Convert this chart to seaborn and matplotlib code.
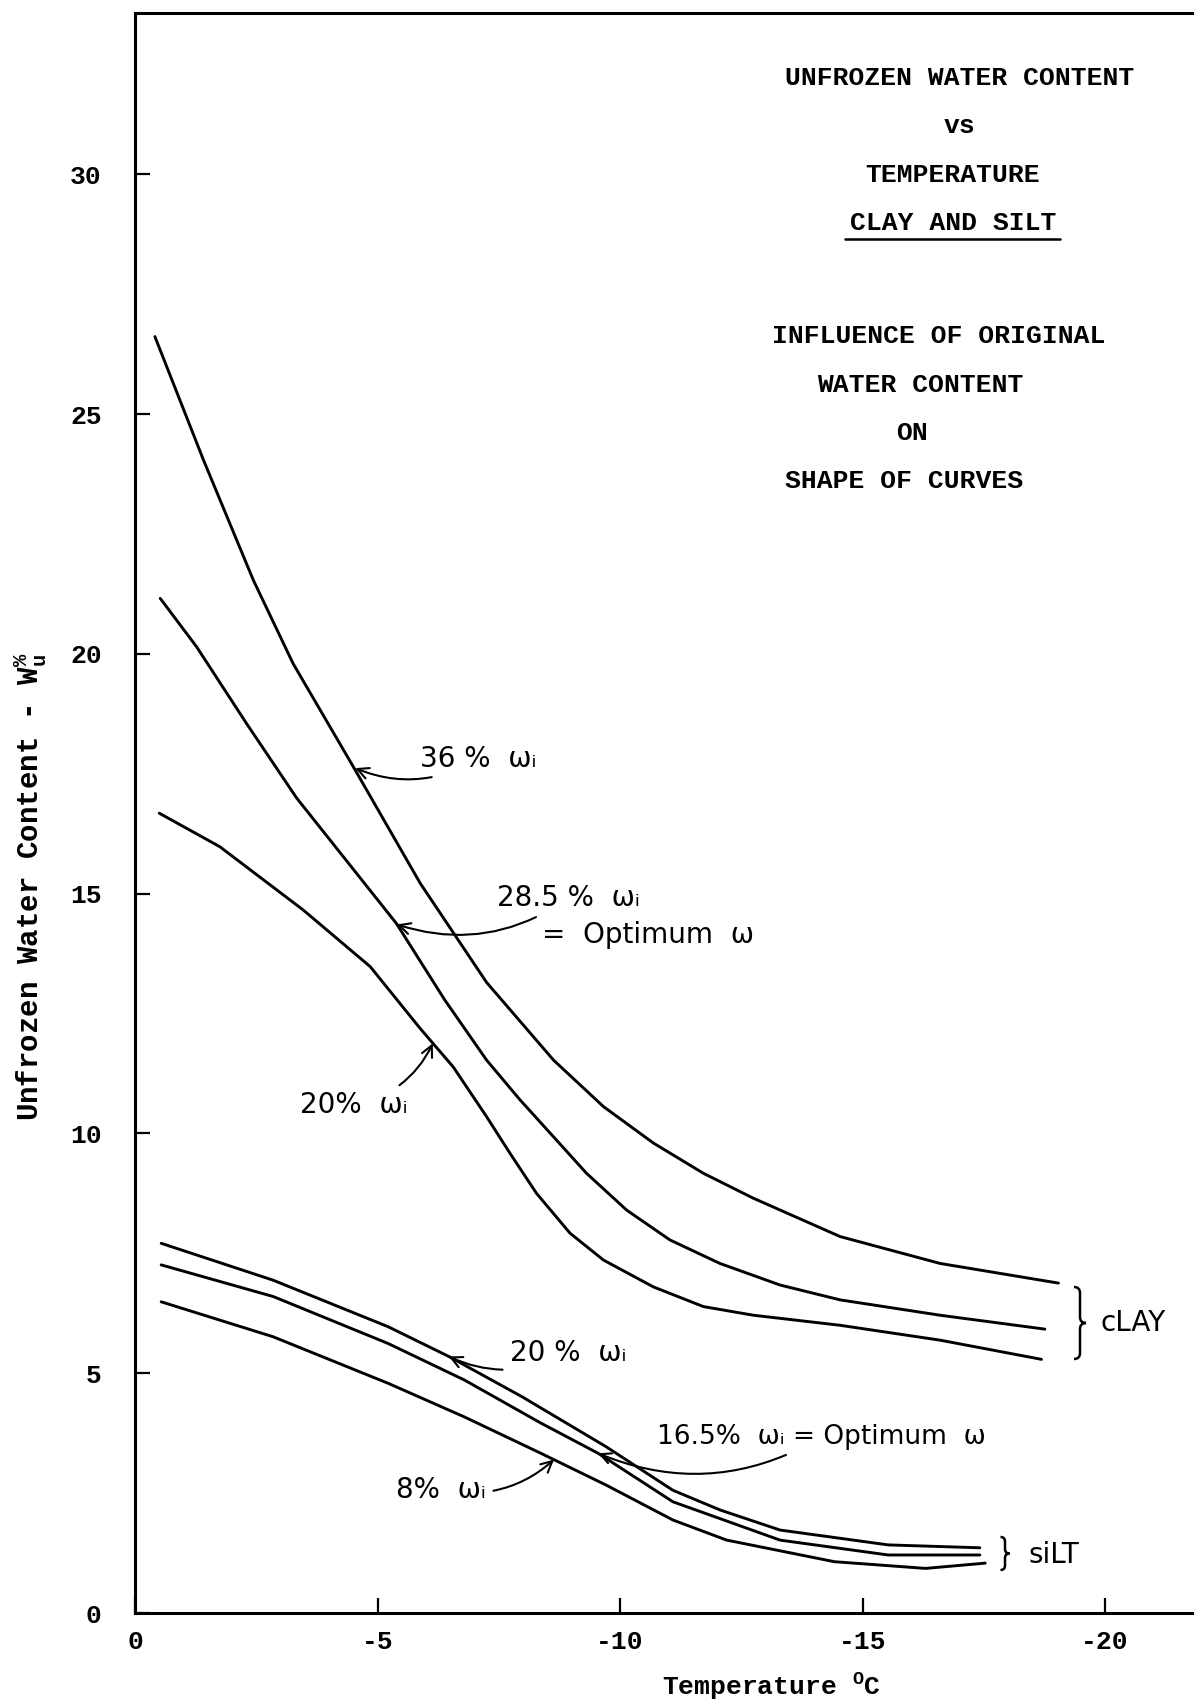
import numpy as np
import pandas as pd
import matplotlib
matplotlib.use("Agg")
import matplotlib.pyplot as plt
from matplotlib.lines import Line2D
from matplotlib.path import Path
from matplotlib.patches import PathPatch
import seaborn as sns

# ---------------- data ----------------
clay36_t = [-0.41, -1.41, -2.44, -3.26, -4.5, -5.88, -7.25, -8.63, -9.66, -10.69, -11.72, -12.75, -14.54, -16.6, -19.04]
clay36_w = [26.62, 24.05, 21.54, 19.8, 17.65, 15.22, 13.15, 11.53, 10.56, 9.8, 9.17, 8.65, 7.85, 7.29, 6.88]

clay285_t = [-0.52, -1.27, -2.3, -3.33, -5.39, -6.39, -7.25, -7.94, -8.63, -9.31, -10.14, -11.03, -12.06, -13.3, -14.54, -16.6, -18.76]
clay285_w = [21.16, 20.15, 18.55, 17.0, 14.38, 12.78, 11.53, 10.7, 9.93, 9.17, 8.40, 7.78, 7.29, 6.84, 6.53, 6.21, 5.92]

clay20_t = [-0.5, -1.75, -3.47, -4.85, -5.88, -6.56, -7.25, -7.73, -8.28, -8.97, -9.66, -10.69, -11.72, -12.75, -14.54, -16.6, -18.69]
clay20_w = [16.68, 15.98, 14.66, 13.48, 12.19, 11.39, 10.35, 9.59, 8.75, 7.92, 7.36, 6.8, 6.39, 6.21, 6.0, 5.69, 5.29]

silt20_t = [-0.54, -2.85, -5.22, -6.47, -7.98, -9.71, -11.09, -12.06, -13.3, -15.53, -17.42]
silt20_w = [7.71, 6.94, 5.97, 5.35, 4.51, 3.47, 2.56, 2.15, 1.73, 1.42, 1.36]

silt165_t = [-0.54, -2.85, -5.22, -6.79, -8.37, -9.55, -11.09, -13.3, -15.53, -17.42]
silt165_w = [7.26, 6.6, 5.62, 4.86, 3.96, 3.33, 2.32, 1.52, 1.21, 1.21]

silt8_t = [-0.54, -2.85, -5.22, -6.79, -8.37, -9.71, -11.09, -12.2, -14.42, -16.3, -17.53]
silt8_w = [6.49, 5.76, 4.79, 4.09, 3.33, 2.67, 1.94, 1.52, 1.07, 0.93, 1.04]

x_ticks = [0, -5, -10, -15, -20]
x_tick_labels = ["0", "-5", "-10", "-15", "-20"]
y_ticks = [0, 5, 10, 15, 20, 25, 30]
y_tick_labels = ["0", "5", "10", "15", "20", "25", "30"]

title_lines = ["UNFROZEN WATER CONTENT", "vs", "TEMPERATURE", "CLAY AND SILT",
               "INFLUENCE OF ORIGINAL", "WATER CONTENT", "ON", "SHAPE OF CURVES"]

curves = [
    ("clay 36", clay36_t, clay36_w),
    ("clay 28.5", clay285_t, clay285_w),
    ("clay 20", clay20_t, clay20_w),
    ("silt 20", silt20_t, silt20_w),
    ("silt 16.5", silt165_t, silt165_w),
    ("silt 8", silt8_t, silt8_w),
]

# ---------------- figure ----------------
sns.set_theme(style="white")
plt.rcParams['font.family'] = ['Liberation Mono', 'DejaVu Sans']
plt.rcParams['font.weight'] = 'bold'
plt.rcParams['mathtext.fontset'] = 'custom'
plt.rcParams['mathtext.rm'] = 'Liberation Mono:bold'
plt.rcParams['mathtext.it'] = 'Liberation Mono:bold'
plt.rcParams['mathtext.bf'] = 'Liberation Mono:bold'

W, H = 1194, 1701
fig = plt.figure(figsize=(W / 100, H / 100), dpi=100)
fig.patch.set_facecolor("white")
ax = fig.add_axes([135 / W, 88 / H, 1 - 135 / W, (1613 - 13) / H])
ax.set_facecolor("white")


def fp(px, py):
    """pixel (from top-left) -> figure fraction"""
    return (px / W, 1 - py / H)


frames = [pd.DataFrame({"temp": t, "wu": w, "curve": name}) for name, t, w in curves]
df = pd.concat(frames, ignore_index=True)

sns.lineplot(data=df, x="temp", y="wu", units="curve", estimator=None, sort=False,
             color="black", linewidth=2.1, ax=ax, legend=False)

ax.set_xlim(0, -(W - 135) / 48.5)
ax.set_ylim(0, 1600 / 47.95)

ax.set_xticks(x_ticks)
ax.set_xticklabels(x_tick_labels, fontweight="bold")
ax.set_yticks(y_ticks)
ax.set_yticklabels(y_tick_labels, fontweight="bold")
ax.tick_params(axis="both", direction="in", length=11, width=1.6, color="black",
               labelsize=19, labelcolor="black")
ax.tick_params(axis="y", pad=24, left=True)
ax.tick_params(axis="x", pad=12, bottom=True)
ax.grid(False)

for side in ["left", "top", "bottom"]:
    ax.spines[side].set_visible(True)
    ax.spines[side].set_color("black")
    ax.spines[side].set_linewidth(2.2)
ax.spines["right"].set_visible(False)

ax.set_xlabel(r"Temperature $^{\mathrm{O}}$C", fontsize=19, fontweight="bold",
              color="black", va="center")
ax.xaxis.set_label_coords((771 - 135) / 1059, (1613 - 1687) / 1600)
ax.set_ylabel(r"Unfrozen Water Content - W$_{u}^{\%}$", fontsize=21, fontweight="bold",
              color="black", va="center")
ax.yaxis.set_label_coords((30 - 135) / 1059, (1613 - 887) / 1600)

# title block
title_pos = [(960, 85), (959, 133), (953, 182), (953, 230),
             (939, 343), (920, 392), (912, 440), (904, 488)]
for s, (px, py) in zip(title_lines, title_pos):
    x, y = fp(px, py)
    fig.text(x, y, s, ha="center", va="baseline", fontsize=19, fontweight="bold", color="black")
ux0, uy = fp(845, 239)
ux1, _ = fp(1060, 239)
fig.add_artist(Line2D([ux0, ux1], [uy, uy], lw=1.8, color="black"))

# handwritten annotations
hand = dict(family="DejaVu Sans", fontsize=20, fontweight="normal", color="black")
arrow = dict(arrowstyle="->", color="black", lw=1.5, shrinkA=3, shrinkB=0,
             connectionstyle="arc3,rad=-0.25")
arrow_r = dict(arrowstyle="->", color="black", lw=1.5, shrinkA=3, shrinkB=0,
               connectionstyle="arc3,rad=0.25")

ax.annotate("36 %  ωᵢ", xy=(-4.54, 17.62), xytext=fp(420, 759), textcoords="figure fraction",
            ha="left", va="center", arrowprops=arrow, **hand)
ax.annotate("28.5 %  ωᵢ", xy=(-5.4, 14.36), xytext=fp(497, 898), textcoords="figure fraction",
            ha="left", va="center", arrowprops=arrow, **hand)
fig.text(*fp(542, 935), "=  Optimum  ω", ha="left", va="center", **hand)
ax.annotate("20%  ωᵢ", xy=(-6.14, 11.88), xytext=fp(300, 1105), textcoords="figure fraction",
            ha="left", va="center", arrowprops=arrow_r, **hand)
ax.annotate("20 %  ωᵢ", xy=(-6.47, 5.35), xytext=fp(510, 1353), textcoords="figure fraction",
            ha="left", va="center", arrowprops=arrow, **hand)
ax.annotate("16.5%  ωᵢ = Optimum  ω", xy=(-9.55, 3.33), xytext=fp(657, 1437),
            textcoords="figure fraction", ha="left", va="center", arrowprops=arrow,
            family="DejaVu Sans", fontsize=19, fontweight="normal", color="black")
ax.annotate("8%  ωᵢ", xy=(-8.64, 3.2), xytext=fp(486, 1490), textcoords="figure fraction",
            ha="right", va="center", arrowprops=arrow_r, **hand)


def brace(x0, ytop, ybot, w):
    ym = (ytop + ybot) / 2
    pts = [(x0 - w / 2, ytop), (x0, ytop), (x0, ytop + w / 2),
           (x0, ym - w / 2), (x0, ym), (x0 + w / 2, ym),
           (x0, ym), (x0, ym + w / 2),
           (x0, ybot - w / 2), (x0, ybot), (x0 - w / 2, ybot)]
    codes = [Path.MOVETO, Path.CURVE3, Path.CURVE3,
             Path.LINETO, Path.CURVE3, Path.CURVE3,
             Path.CURVE3, Path.CURVE3,
             Path.LINETO, Path.CURVE3, Path.CURVE3]
    verts = [fp(px, py) for px, py in pts]
    fig.add_artist(PathPatch(Path(verts, codes), fill=False, lw=1.8, edgecolor="black",
                             transform=fig.transFigure))


brace(1080, 1287, 1359, 12)
fig.text(*fp(1101, 1323), "cLAY", ha="left", va="center", **hand)
brace(1005, 1537, 1570, 9)
fig.text(*fp(1028, 1555), "siLT", ha="left", va="center", **hand)

fig.savefig("out.png", dpi=100, facecolor="white")
